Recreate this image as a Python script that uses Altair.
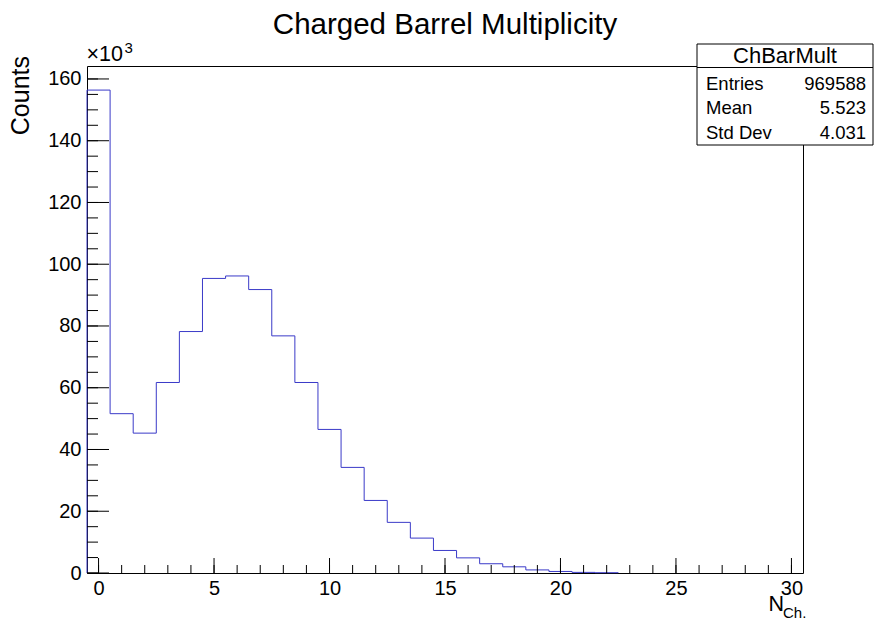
import altair as alt
import pandas as pd

# ---------------- data ----------------
bin_centers = list(range(23))
counts_k = [156.4, 51.6, 45.3, 61.7, 78.2, 95.4, 96.2, 91.8, 76.8, 61.7, 46.5,
            34.2, 23.5, 16.4, 11.3, 7.3, 4.9, 3.0, 2.0, 1.0, 0.5, 0.2, 0.1]

x_major = [0, 5, 10, 15, 20, 25, 30]
x_minor = list(range(0, 31))
y_major = [0, 20, 40, 60, 80, 100, 120, 140, 160]
y_minor = list(range(0, 165, 5))

stat_names = ["Entries", "Mean", "Std Dev"]
stat_values = ["969588", "5.523", "4.031"]
hist_name = "ChBarMult"
title_text = "Charged Barrel Multiplicity"

X_DOMAIN = [-0.5, 30.5]
Y_DOMAIN = [0, 164.2]
W, H = 716, 507
FONT = "Liberation Sans"

# step outline of the histogram (bin edges)
rows = [{"i": 0, "x": -0.5, "y": 0.0}]
for k, (c, v) in enumerate(zip(bin_centers, counts_k)):
    rows.append({"i": k + 1, "x": c - 0.5, "y": v})
rows.append({"i": len(rows), "x": bin_centers[-1] + 0.5, "y": 0.0})
hist_df = pd.DataFrame(rows)

xscale = alt.Scale(domain=X_DOMAIN, nice=False, zero=False)
yscale = alt.Scale(domain=Y_DOMAIN, nice=False, zero=False)

x_axis = alt.Axis(values=x_major, ticks=False, tickSize=0, domain=False, grid=False,
                  labelFontSize=20, labelFont=FONT, labelColor="black",
                  labelPadding=5, title=None, labelFlush=False, labelOverlap=False)
y_axis = alt.Axis(values=y_major, ticks=False, tickSize=0, domain=False, grid=False,
                  labelFontSize=20, labelFont=FONT, labelColor="black",
                  labelPadding=6, title=None, labelFlush=False, labelOverlap=False)

hist = alt.Chart(hist_df).mark_line(
    interpolate="step-after", color="#3a3ac8", strokeWidth=1
).encode(
    x=alt.X("x:Q", scale=xscale, axis=x_axis),
    y=alt.Y("y:Q", scale=yscale, axis=y_axis),
    order="i:Q",
)

# inward ticks (ROOT style)
xmaj = alt.Chart(pd.DataFrame({"x": x_major})).mark_rule(color="black", strokeWidth=1).encode(
    x=alt.X("x:Q", scale=xscale, axis=x_axis), y=alt.value(H), y2=alt.value(H - 15))
xmin = alt.Chart(pd.DataFrame({"x": x_minor})).mark_rule(color="black", strokeWidth=1).encode(
    x=alt.X("x:Q", scale=xscale, axis=x_axis), y=alt.value(H), y2=alt.value(H - 8))
ymaj = alt.Chart(pd.DataFrame({"y": y_major})).mark_rule(color="black", strokeWidth=1).encode(
    y=alt.Y("y:Q", scale=yscale, axis=y_axis), x=alt.value(0), x2=alt.value(22))
ymin = alt.Chart(pd.DataFrame({"y": y_minor})).mark_rule(color="black", strokeWidth=1).encode(
    y=alt.Y("y:Q", scale=yscale, axis=y_axis), x=alt.value(0), x2=alt.value(11))

one = pd.DataFrame({"a": [0]})


def txt(text, x, y, size, align="left", angle=0, baseline="alphabetic"):
    kw = dict(text=text, fontSize=size, font=FONT, color="black", align=align,
              baseline=baseline)
    if angle:
        kw["angle"] = angle
    return alt.Chart(one).mark_text(**kw).encode(x=alt.value(x), y=alt.value(y))


# stats box
box = alt.Chart(one).mark_rect(fill="white", stroke="black", strokeWidth=1).encode(
    x=alt.value(610), x2=alt.value(786), y=alt.value(-22), y2=alt.value(79))
sep = alt.Chart(one).mark_rule(color="black", strokeWidth=1).encode(
    x=alt.value(610), x2=alt.value(786), y=alt.value(1.5))

layers = [hist, xmin, xmaj, ymin, ymaj, box, sep,
          txt(hist_name, 698, -3, 22, align="center")]
for k, (n, v) in enumerate(zip(stat_names, stat_values)):
    yb = 23.5 + 24.8 * k
    layers.append(txt(n, 619, yb, 18.5))
    layers.append(txt(v, 779, yb, 18.5, align="right"))

layers += [
    txt(title_text, 358, -32, 29.5, align="center"),
    txt("Counts", -57.7, -10, 25, align="right", angle=270),
    txt("\u00d710", -0.5, -5.3, 21.5),
    txt("3", 37.5, -13, 15),
    txt("N", 681.4, 545, 21.5),
    txt("Ch.", 696, 551.5, 15),
]

chart = alt.layer(*layers).properties(
    width=W, height=H,
    autosize=alt.AutoSizeParams(type="none"),
    padding={"left": 87, "top": 66, "right": 71, "bottom": 47},
    background="white",
).configure_view(stroke="black", strokeWidth=1)

chart.save("out.html", embed_options={"renderer": "svg", "actions": False})
